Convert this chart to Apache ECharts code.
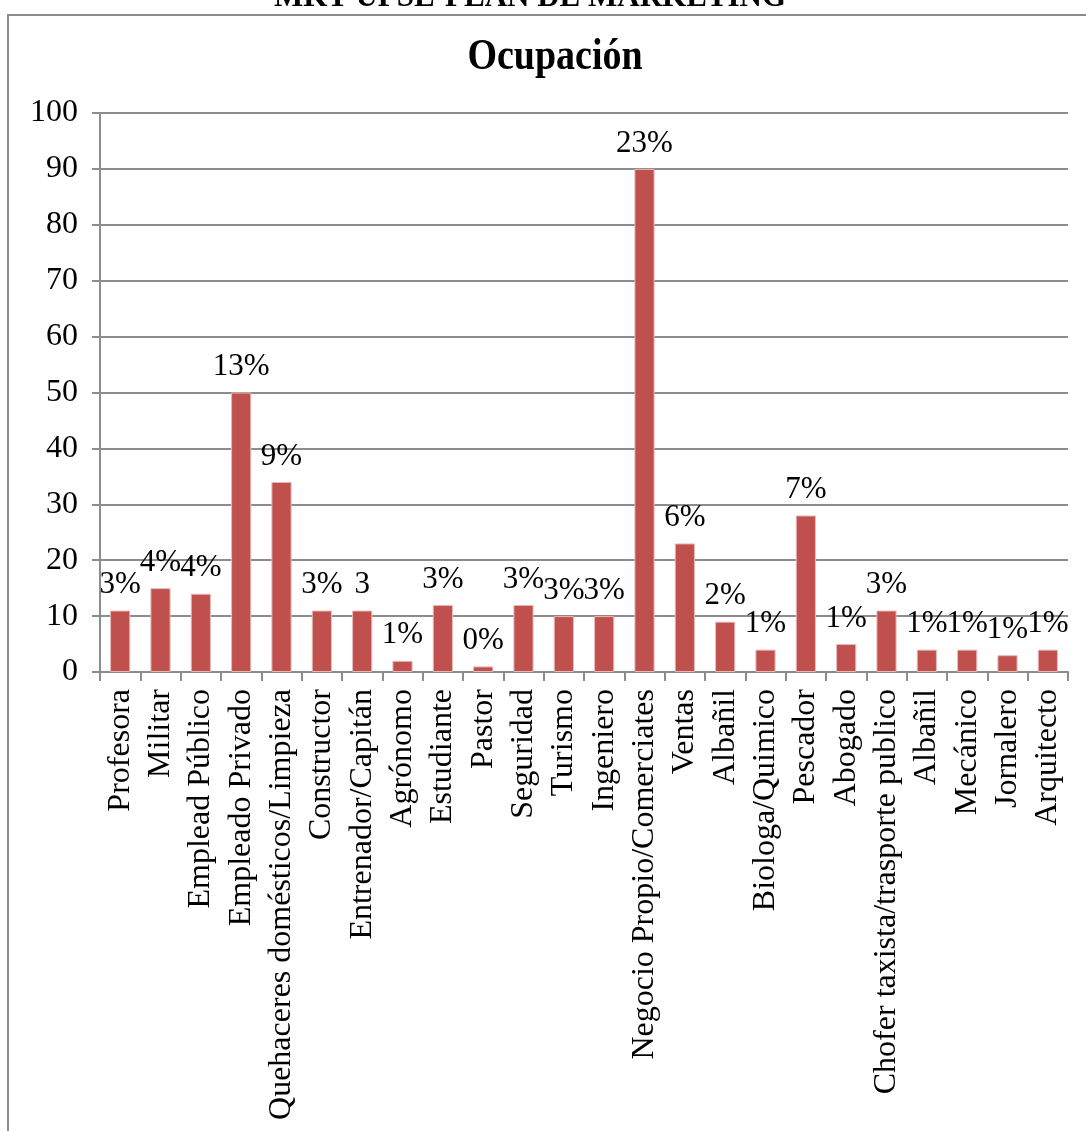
<!DOCTYPE html>
<html>
<head>
<meta charset="utf-8">
<title>Ocupación</title>
<script src="https://cdn.jsdelivr.net/npm/echarts@6/dist/echarts.min.js"></script>
<style>
  html, body { margin: 0; padding: 0; background: #fff; }
  #chart { width: 1086px; height: 1131px; }
</style>
</head>
<body>
<div id="chart"></div>
<script>
// Occupations surveyed
const categories = [
  'Profesora', 'Militar', 'Emplead Público', 'Empleado Privado',
  'Quehaceres domésticos/Limpieza', 'Constructor', 'Entrenador/Capitán',
  'Agrónomo', 'Estudiante', 'Pastor', 'Seguridad', 'Turismo', 'Ingeniero',
  'Negocio Propio/Comerciates', 'Ventas', 'Albañil', 'Biologa/Quimico',
  'Pescador', 'Abogado', 'Chofer taxista/trasporte publico', 'Albañil',
  'Mecánico', 'Jornalero', 'Arquitecto'
];

// Number of respondents per occupation
const counts = [11, 15, 14, 50, 34, 11, 11, 2, 12, 1, 12, 10, 10, 90, 23, 9, 4, 28, 5, 11, 4, 4, 3, 4];

// Percentage labels printed above each bar
const percentLabels = ['3%', '4%', '4%', '13%', '9%', '3%', '3', '1%', '3%', '0%', '3%', '3%', '3%',
  '23%', '6%', '2%', '1%', '7%', '1%', '3%', '1%', '1%', '1%', '1%'];

// Value axis ticks
const yTicks = [0, 10, 20, 30, 40, 50, 60, 70, 80, 90, 100];

const SERIF = "'Liberation Serif', 'Times New Roman', serif";
const GRAY = '#8c8c8c';

const chart = echarts.init(document.getElementById('chart'), null, { renderer: 'canvas' });

chart.setOption({
  animation: false,
  backgroundColor: '#fff',
  graphic: [
    {
      type: 'rect',
      shape: { x: 8, y: 15, width: 1200, height: 1200 },
      style: { fill: 'none', stroke: GRAY, lineWidth: 2 },
      z: 0
    },
    {
      type: 'text',
      x: 530, y: 13,
      style: {
        text: 'MKT-UPSE-PLAN DE MARKETING',
        font: 'bold 31px ' + SERIF,
        fill: '#000',
        textAlign: 'center',
        textVerticalAlign: 'bottom'
      },
      z: 10
    },
    {
      type: 'text',
      x: 555, y: 58,
      originX: 0, originY: 0,
      scaleY: 1.15,
      style: {
        text: 'Ocupación',
        font: 'bold 38px ' + SERIF,
        fill: '#000',
        textAlign: 'center',
        textVerticalAlign: 'middle'
      },
      z: 10
    }
  ],
  grid: { left: 100, right: 18, top: 113, bottom: 459, containLabel: false },
  xAxis: {
    type: 'category',
    data: categories,
    boundaryGap: true,
    axisLine: { show: true, lineStyle: { color: GRAY, width: 2 } },
    axisTick: { show: true, interval: 0, length: 9, lineStyle: { color: GRAY, width: 2 } },
    axisLabel: {
      interval: 0,
      rotate: 90,
      margin: 17,
      fontFamily: SERIF,
      fontSize: 32,
      color: '#000'
    },
    splitLine: { show: false }
  },
  yAxis: {
    type: 'value',
    min: yTicks[0],
    max: yTicks[yTicks.length - 1],
    interval: 10,
    axisLine: { show: true, lineStyle: { color: GRAY, width: 2 } },
    axisTick: { show: true, length: 8, lineStyle: { color: GRAY, width: 2 } },
    axisLabel: {
      margin: 22,
      fontFamily: SERIF,
      fontSize: 32,
      color: '#000'
    },
    splitLine: { show: true, lineStyle: { color: GRAY, width: 2 } }
  },
  series: [
    {
      type: 'bar',
      barWidth: '50%',
      data: counts.map((v, i) => ({ value: v, label: { formatter: percentLabels[i] } })),
      itemStyle: { color: '#C0504D', borderColor: '#E6B9B8', borderWidth: 1 },
      label: {
        show: true,
        position: 'top',
        distance: 10,
        fontFamily: SERIF,
        fontSize: 31,
        color: '#000'
      }
    }
  ]
});
</script>
</body>
</html>
